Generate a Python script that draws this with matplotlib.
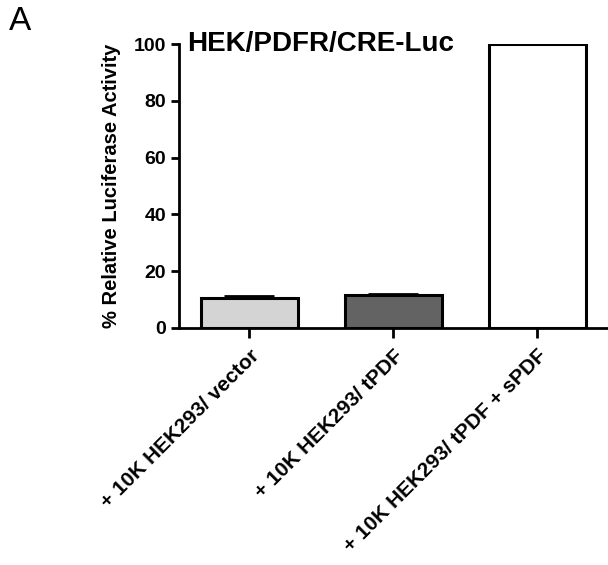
import matplotlib.pyplot as plt

plt.rcParams['font.family'] = ['Liberation Sans', 'DejaVu Sans']

labels = ["+ 10K HEK293/ vector", "+ 10K HEK293/ tPDF", "+ 10K HEK293/ tPDF + sPDF"]
values = [10.5, 11.5, 100]
errors = [0.6, 0.6, 0]
colors = ["#d4d4d4", "#636363", "#ffffff"]

fig = plt.figure(figsize=(6.08, 5.65), dpi=100)
ax = fig.add_axes([0.294, 0.4195, 0.706, 0.5025])

x = range(len(values))
ax.bar(x, values, width=0.67, color=colors, edgecolor="black", linewidth=2.2, zorder=2)
ax.errorbar(list(x)[:2], values[:2], yerr=[[0, 0], errors[:2]], fmt="none",
            ecolor="black", elinewidth=2, capsize=18, capthick=2, zorder=3)

ax.set_xlim(-0.49, 2.49)
ax.set_ylim(0, 100)
ax.set_yticks([0, 20, 40, 60, 80, 100])
ax.set_xticks(list(x))
ax.set_xticklabels(labels, rotation=45, ha="right", rotation_mode="anchor",
                   fontsize=15, fontweight="bold")
for t in ax.get_yticklabels():
    t.set_fontsize(14)
    t.set_fontweight("bold")

for s in ["top", "right"]:
    ax.spines[s].set_visible(False)
for s in ["left", "bottom"]:
    ax.spines[s].set_linewidth(2)
ax.tick_params(axis="y", length=6, width=2, pad=3)
ax.tick_params(axis="x", length=7, width=2, pad=6)

ax.set_ylabel("% Relative Luciferase Activity", fontsize=14.5, fontweight="bold", labelpad=9)
ax.text(0.02, 1.0, "HEK/PDFR/CRE-Luc", transform=ax.transAxes, fontsize=20,
        fontweight="bold", va="center", ha="left")
fig.text(0.014, 0.962, "A", fontsize=24, va="center", ha="left")

fig.savefig("out.png", dpi=100)
